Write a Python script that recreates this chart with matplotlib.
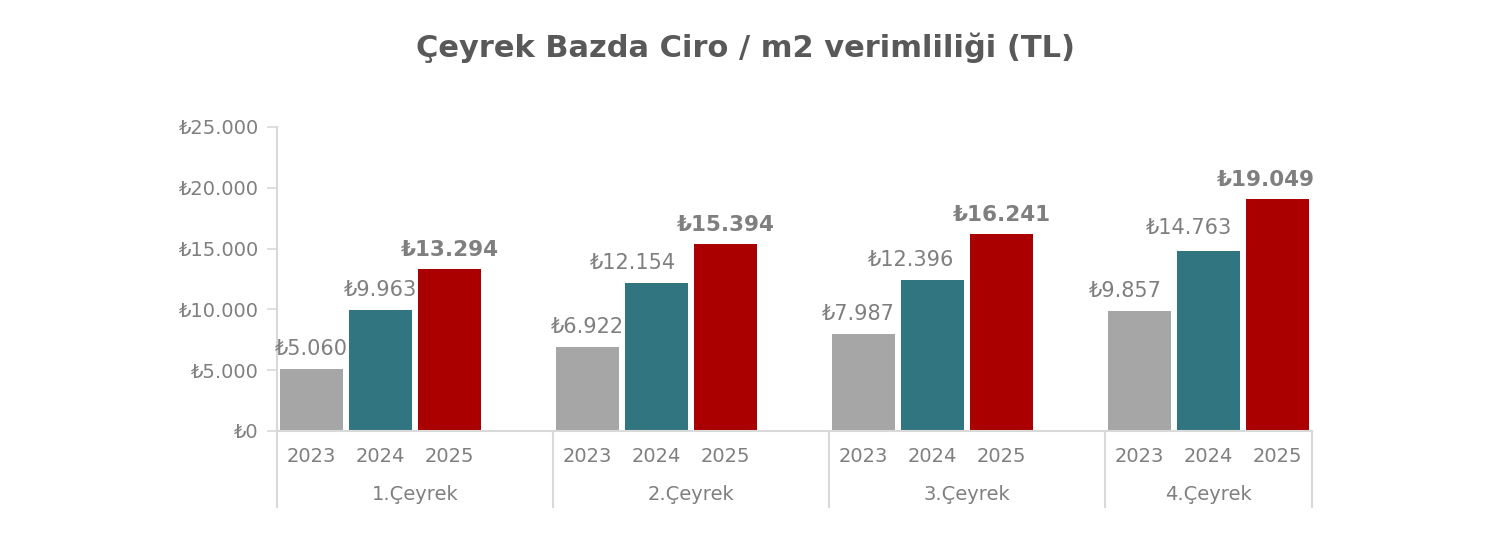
import matplotlib
matplotlib.use("Agg")
import matplotlib.pyplot as plt
from matplotlib.transforms import blended_transform_factory
from matplotlib.ticker import FuncFormatter, MultipleLocator

quarters = ["1.Çeyrek", "2.Çeyrek", "3.Çeyrek", "4.Çeyrek"]
years = ["2023", "2024", "2025"]
v2023 = [5060, 6922, 7987, 9857]
v2024 = [9963, 12154, 12396, 14763]
v2025 = [13294, 15394, 16241, 19049]
series = [v2023, v2024, v2025]
colors = ["#A6A6A6", "#317580", "#AA0000"]
title = "Çeyrek Bazda Ciro / m2 verimliliği (TL)"

# manual label nudges (pixels) as in the reference
label_dx = [[0, 0, -5, -14], [0, -24, -21, -19], [0, 0, 0, -12]]
label_dy = [[0, 0, 0, 0], [0, 0, 0, 3], [0, 0, 0, 0]]

plt.rcParams['font.family'] = ['DejaVu Sans']
W, H = 1490, 559
fig = plt.figure(figsize=(W / 100, H / 100), dpi=100)
ax = fig.add_axes([277 / W, 128 / H, (1312 - 277) / W, 304 / H])

txt_col = "#7F7F7F"
line_col = "#D9D9D9"

for j, (vals, c) in enumerate(zip(series, colors)):
    xs = [i + 0.125 + 0.25 * j for i in range(len(quarters))]
    ax.bar(xs, vals, width=0.225, color=c, zorder=2)
    for k, (x, v) in enumerate(zip(xs, vals)):
        lab = "₺" + f"{v:,}".replace(",", ".")
        dx = label_dx[j][k]
        if j == 2:
            ax.annotate(lab, (x, v), xytext=(dx, 9 + label_dy[j][k]), textcoords="offset pixels",
                        ha="center", va="bottom", fontsize=15.5, fontweight="bold", color=txt_col)
        else:
            ax.annotate(lab, (x, v), xytext=(dx, 10 + label_dy[j][k]), textcoords="offset pixels",
                        ha="center", va="bottom", fontsize=15, color=txt_col)

ax.set_xlim(0, 3.75)
ax.set_ylim(0, 25000)
ax.yaxis.set_major_locator(MultipleLocator(5000))
ax.yaxis.set_major_formatter(FuncFormatter(lambda v, p: "₺" + f"{int(v):,}".replace(",", ".")))
ax.tick_params(axis="y", colors=line_col, labelcolor=txt_col, labelsize=14, length=7, width=1.2, pad=6)
ax.set_xticks([])
for s in ["top", "right"]:
    ax.spines[s].set_visible(False)
for s in ["left", "bottom"]:
    ax.spines[s].set_color(line_col)
    ax.spines[s].set_linewidth(1.5)

tr = blended_transform_factory(ax.transData, ax.transAxes)
for xb in [0, 1, 2, 3, 3.75]:
    ax.plot([xb, xb], [0, -0.25], transform=tr, color=line_col, lw=1.5, clip_on=False)
for i, q in enumerate(quarters):
    for j, y in enumerate(years):
        ax.text(i + 0.125 + 0.25 * j, -0.085, y, transform=tr, ha="center", va="center",
                fontsize=14, color=txt_col)
    xc = min(i + 0.5, (i + 3.75) / 2)
    ax.text(xc, -0.21, q, transform=tr, ha="center", va="center", fontsize=14, color=txt_col)

fig.text(0.5, 1 - 48 / H, title, ha="center", va="center", fontsize=22,
         fontweight="bold", color="#595959")

fig.savefig("out.png", dpi=100, facecolor="white")
